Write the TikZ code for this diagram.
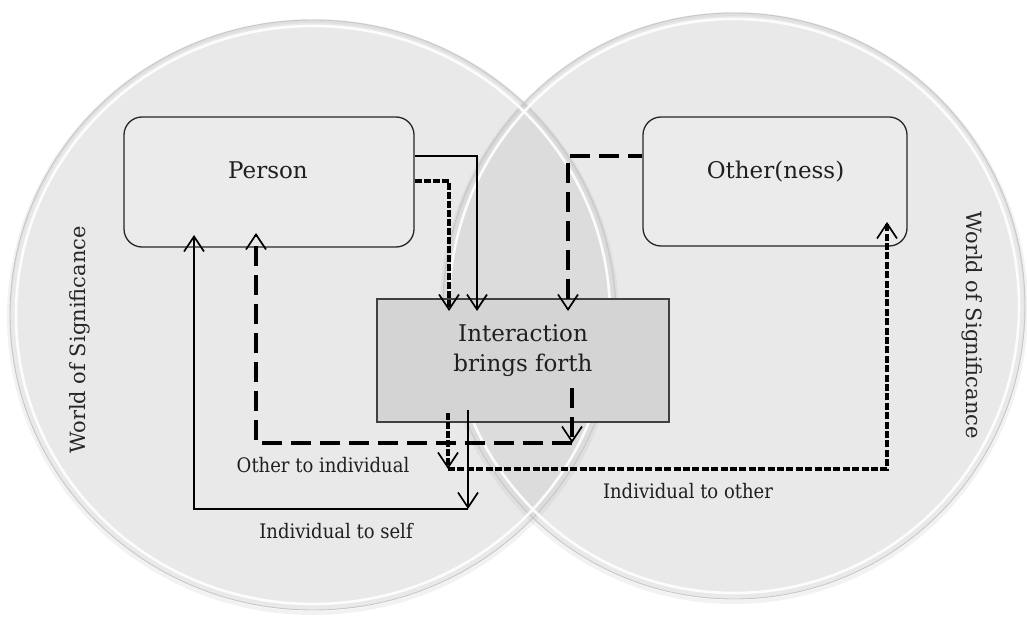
\documentclass[tikz,border=0pt]{standalone}
\usepackage{fontspec}
\usepackage{graphicx}
\setmainfont{DejaVu Serif}
\usetikzlibrary{arrows.meta,calc}
\begin{document}
\begin{tikzpicture}[x=1pt,y=-1pt,
  >={Straight Barb[length=15pt,width=20pt,line width=1.7pt]},
  circ/.style={fill=black!22, fill opacity=0.38},
  rim/.style={draw=white, line width=2.6pt, opacity=0.9},
  circedge/.style={draw=black!22, line width=0.9pt},
  circshadow/.style={draw=black!40, line width=4pt, opacity=0.12},
  pbox/.style={draw=black!85, line width=1.3pt, rounded corners=18pt, fill=black!8, minimum width=290pt, minimum height=130pt, inner sep=0pt},
  obox/.style={pbox, minimum width=264pt, minimum height=129pt},
  ibox/.style={draw=black!75, line width=1.3pt, fill=black!17, minimum width=292pt, minimum height=123pt, inner sep=0pt},
  bigtxt/.style={text=black!88, font=\fontsize{23}{30}\selectfont, inner sep=0pt},
  sidetxt/.style={text=black!85, font=\fontsize{21}{25}\selectfont, inner sep=0pt},
  lbl/.style={text=black!88, font=\fontsize{20}{24}\selectfont, inner sep=0pt},
  solidline/.style={line width=1.8pt, ->},
  longdash/.style={line width=3.4pt, dash pattern=on 20pt off 9pt, ->},
  finedash/.style={line width=3.4pt, dash pattern=on 7pt off 2pt, ->},
  finedashthin/.style={line width=3.2pt, dash pattern=on 7pt off 2.4pt, ->}
]
\useasboundingbox (0,0) rectangle (1027,617);
\fill[white] (0,0) rectangle (1027,617);

% circles (worlds)
\fill[circ] (313,315) ellipse [x radius=303pt, y radius=295pt];
\fill[circ] (734,306) ellipse [x radius=291pt, y radius=293pt];
\draw[circshadow] (313,317) ellipse [x radius=304pt, y radius=296pt];
\draw[circshadow] (734,308) ellipse [x radius=292pt, y radius=294pt];
\draw[circedge] (313,315) ellipse [x radius=303pt, y radius=295pt];
\draw[circedge] (734,306) ellipse [x radius=291pt, y radius=293pt];
\draw[rim] (313,315) ellipse [x radius=297pt, y radius=289pt];
\draw[rim] (734,306) ellipse [x radius=285pt, y radius=287pt];

% side labels
\node[sidetxt, rotate=90] (wl) at (80,340) {World of Significance};
\node[sidetxt, rotate=-90] (wr) at (972,325) {World of Significance};

% boxes
\node[pbox] (person) at (269,182) {};
\node[obox] (other) at (775,181.5) {};
\node[ibox] (inter) at (523,360.5) {};
\node[bigtxt, anchor=base] (personlbl) at (268,179) {Person};
\node[bigtxt, anchor=base] (otherlbl) at (775.5,179) {Other(ness)};
\node[bigtxt, align=center] (intertxt) at (523,351) {Interaction\\brings forth};

% end points
\coordinate (ia) at (477,311);
\coordinate (ib) at (449,311);
\coordinate (ic) at (568,311);
\coordinate (s4) at (572,388);
\coordinate (t4) at (572,443);
\coordinate (pt2) at (256,233);
\coordinate (s6) at (448,413);
\coordinate (t6) at (448,469);
\coordinate (ot) at (887,222);
\coordinate (s8) at (468,410);
\coordinate (t8) at (468,509);
\coordinate (pt1) at (194,235);

% connectors into interaction
\draw[solidline] (person.east |- 0,156) -| (ia);
\draw[finedash] (person.east |- 0,181) -| (ib);
\draw[longdash, dash phase=6pt] (other.west |- 0,156) -| (ic);

% other to individual
\draw[longdash] (s4) -- (t4);
\draw[longdash] (t4) -| (pt2);

% individual to other
\draw[finedash] (s6) -- (t6);
\draw[finedashthin] (t6) -| (ot);

% individual to self
\draw[solidline] (s8) -- (t8);
\draw[solidline] (t8) -| (pt1);

% labels
\node[lbl] (l1) at (323,465) {\scalebox{0.9}[1]{Other to individual}};
\node[lbl] (l2) at (688,491) {\scalebox{0.9}[1]{Individual to other}};
\node[lbl] (l3) at (336,531) {\scalebox{0.9}[1]{Individual to self}};
\end{tikzpicture}
\end{document}
